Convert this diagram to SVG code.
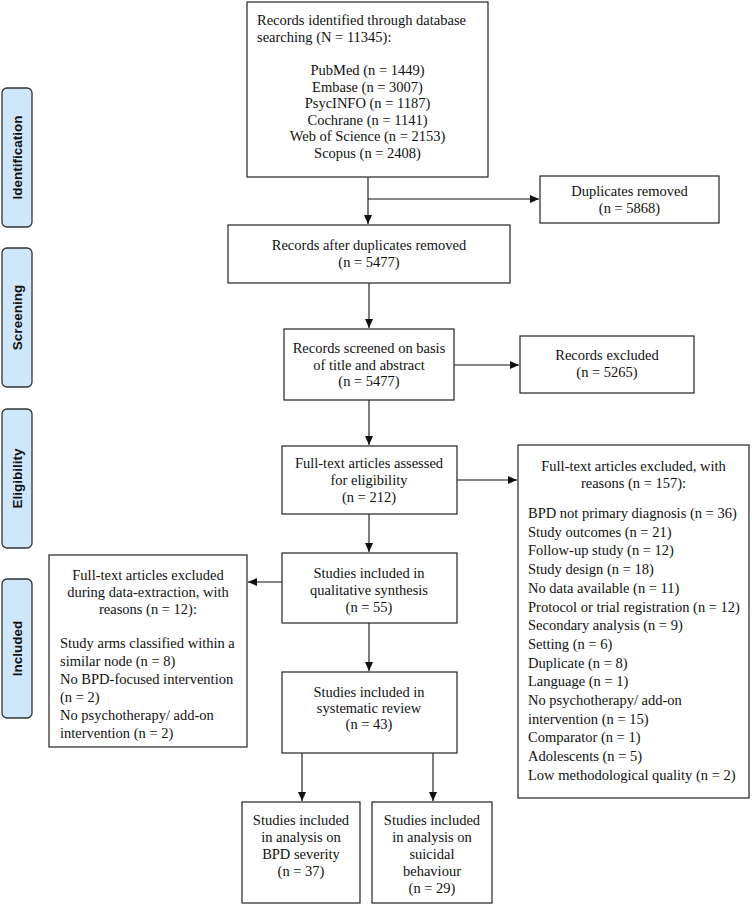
<svg xmlns="http://www.w3.org/2000/svg" width="752" height="905" viewBox="0 0 752 905">
<defs>
<style>
.box{fill:#fff;stroke:#222;stroke-width:1.2}
.lab{fill:#cfe7fb;stroke:#333;stroke-width:1.3}
.t{font-family:"Liberation Serif","Times New Roman",serif;font-size:14.5px;fill:#111}
.c{text-anchor:middle}
.lt{font-family:"Liberation Sans",Arial,sans-serif;font-size:13.5px;font-weight:bold;fill:#111;text-anchor:middle}
.ln{fill:none;stroke:#111;stroke-width:1.1}
</style>
<marker id="ah" markerWidth="10" markerHeight="8" refX="9" refY="4" orient="auto" markerUnits="userSpaceOnUse">
<path d="M0,0 L9,4 L0,8 Z" fill="#111"/>
</marker>
</defs>
<rect width="752" height="905" fill="#fff"/>

<g id="phase-identification">
<rect class="lab" x="2" y="88" width="30" height="139" rx="5"/>
<text class="lt" transform="translate(22,157.5) rotate(-90)">Identification</text>
</g>
<g id="phase-screening">
<rect class="lab" x="2" y="248" width="30" height="139" rx="5"/>
<text class="lt" transform="translate(22,317.5) rotate(-90)">Screening</text>
</g>
<g id="phase-eligibility">
<rect class="lab" x="2" y="409" width="30" height="139" rx="5"/>
<text class="lt" transform="translate(22,478.5) rotate(-90)">Eligibility</text>
</g>
<g id="phase-included">
<rect class="lab" x="2" y="579" width="30" height="139" rx="5"/>
<text class="lt" transform="translate(22,648.5) rotate(-90)">Included</text>
</g>

<g id="connectors">
<path class="ln" d="M368,177 V224" marker-end="url(#ah)"/>
<path class="ln" d="M368,199 H539" marker-end="url(#ah)"/>
<path class="ln" d="M369,283 V328" marker-end="url(#ah)"/>
<path class="ln" d="M454,365 H519" marker-end="url(#ah)"/>
<path class="ln" d="M369,400 V445" marker-end="url(#ah)"/>
<path class="ln" d="M457,480 H517" marker-end="url(#ah)"/>
<path class="ln" d="M369,514 V552" marker-end="url(#ah)"/>
<path class="ln" d="M282,582 H248" marker-end="url(#ah)"/>
<path class="ln" d="M369,623 V671" marker-end="url(#ah)"/>
<path class="ln" d="M302,753 V801" marker-end="url(#ah)"/>
<path class="ln" d="M433,753 V801" marker-end="url(#ah)"/>
</g>

<g id="records-identified">
<rect class="box" x="247" y="2" width="241" height="175"/>
<text class="t" x="257" y="25">Records identified through database</text>
<text class="t" x="257" y="41.5">searching (N = 11345):</text>
<text class="t c" x="367.5" y="75">PubMed (n = 1449)</text>
<text class="t c" x="367.5" y="91.5">Embase (n = 3007)</text>
<text class="t c" x="367.5" y="108">PsycINFO (n = 1187)</text>
<text class="t c" x="367.5" y="124.5">Cochrane (n = 1141)</text>
<text class="t c" x="367.5" y="141">Web of Science (n = 2153)</text>
<text class="t c" x="367.5" y="157.5">Scopus (n = 2408)</text>
</g>

<g id="duplicates-removed">
<rect class="box" x="540" y="176" width="179" height="47"/>
<text class="t c" x="629.5" y="196">Duplicates removed</text>
<text class="t c" x="629.5" y="212.5">(n = 5868)</text>
</g>

<g id="records-after-duplicates">
<rect class="box" x="228" y="225" width="282" height="58"/>
<text class="t c" x="369" y="250">Records after duplicates removed</text>
<text class="t c" x="369" y="267">(n = 5477)</text>
</g>

<g id="records-screened">
<rect class="box" x="284" y="329" width="170" height="71"/>
<text class="t c" x="369" y="353">Records screened on basis</text>
<text class="t c" x="369" y="369.5">of title and abstract</text>
<text class="t c" x="369" y="386">(n = 5477)</text>
</g>

<g id="records-excluded">
<rect class="box" x="520" y="336" width="174" height="57"/>
<text class="t c" x="607" y="360">Records excluded</text>
<text class="t c" x="607" y="377">(n = 5265)</text>
</g>

<g id="fulltext-assessed">
<rect class="box" x="282" y="446" width="175" height="68"/>
<text class="t c" x="369" y="468">Full-text articles assessed</text>
<text class="t c" x="369" y="485">for eligibility</text>
<text class="t c" x="369" y="502">(n = 212)</text>
</g>

<g id="fulltext-excluded">
<rect class="box" x="518" y="445" width="231" height="353"/>
<text class="t c" x="633.5" y="471">Full-text articles excluded, with</text>
<text class="t c" x="633.5" y="488">reasons (n = 157):</text>
<text class="t" x="528" y="518">BPD not primary diagnosis (n = 36)</text>
<text class="t" x="528" y="536.7">Study outcomes (n = 21)</text>
<text class="t" x="528" y="555.4">Follow-up study (n = 12)</text>
<text class="t" x="528" y="574.1">Study design (n = 18)</text>
<text class="t" x="528" y="592.8">No data available (n = 11)</text>
<text class="t" x="528" y="611.5">Protocol or trial registration (n = 12)</text>
<text class="t" x="528" y="630.2">Secondary analysis (n = 9)</text>
<text class="t" x="528" y="648.9">Setting (n = 6)</text>
<text class="t" x="528" y="667.6">Duplicate (n = 8)</text>
<text class="t" x="528" y="686.3">Language (n = 1)</text>
<text class="t" x="528" y="705">No psychotherapy/ add-on</text>
<text class="t" x="528" y="723.7">intervention (n = 15)</text>
<text class="t" x="528" y="742.4">Comparator (n = 1)</text>
<text class="t" x="528" y="761.1">Adolescents (n = 5)</text>
<text class="t" x="528" y="779.8">Low methodological quality (n = 2)</text>
</g>

<g id="extraction-excluded">
<rect class="box" x="49" y="555" width="198" height="192"/>
<text class="t c" x="148" y="580">Full-text articles excluded</text>
<text class="t c" x="148" y="597">during data-extraction, with</text>
<text class="t c" x="148" y="614">reasons (n = 12):</text>
<text class="t" x="60" y="648">Study arms classified within a</text>
<text class="t" x="60" y="666">similar node (n = 8)</text>
<text class="t" x="60" y="684">No BPD-focused intervention</text>
<text class="t" x="60" y="702">(n = 2)</text>
<text class="t" x="60" y="720">No psychotherapy/ add-on</text>
<text class="t" x="60" y="738">intervention (n = 2)</text>
</g>

<g id="qualitative-synthesis">
<rect class="box" x="282" y="553" width="175" height="70"/>
<text class="t c" x="369" y="578">Studies included in</text>
<text class="t c" x="369" y="595">qualitative synthesis</text>
<text class="t c" x="369" y="612">(n = 55)</text>
</g>

<g id="systematic-review">
<rect class="box" x="282" y="672" width="175" height="81"/>
<text class="t c" x="369" y="697">Studies included in</text>
<text class="t c" x="369" y="713">systematic review</text>
<text class="t c" x="369" y="729">(n = 43)</text>
</g>

<g id="analysis-bpd-severity">
<rect class="box" x="242" y="802" width="118" height="101"/>
<text class="t c" x="301" y="825">Studies included</text>
<text class="t c" x="301" y="842">in analysis on</text>
<text class="t c" x="301" y="859">BPD severity</text>
<text class="t c" x="301" y="876">(n = 37)</text>
</g>

<g id="analysis-suicidal-behaviour">
<rect class="box" x="372" y="802" width="120" height="101"/>
<text class="t c" x="432" y="825">Studies included</text>
<text class="t c" x="432" y="842">in analysis on</text>
<text class="t c" x="432" y="859">suicidal</text>
<text class="t c" x="432" y="876">behaviour</text>
<text class="t c" x="432" y="893">(n = 29)</text>
</g>
</svg>
